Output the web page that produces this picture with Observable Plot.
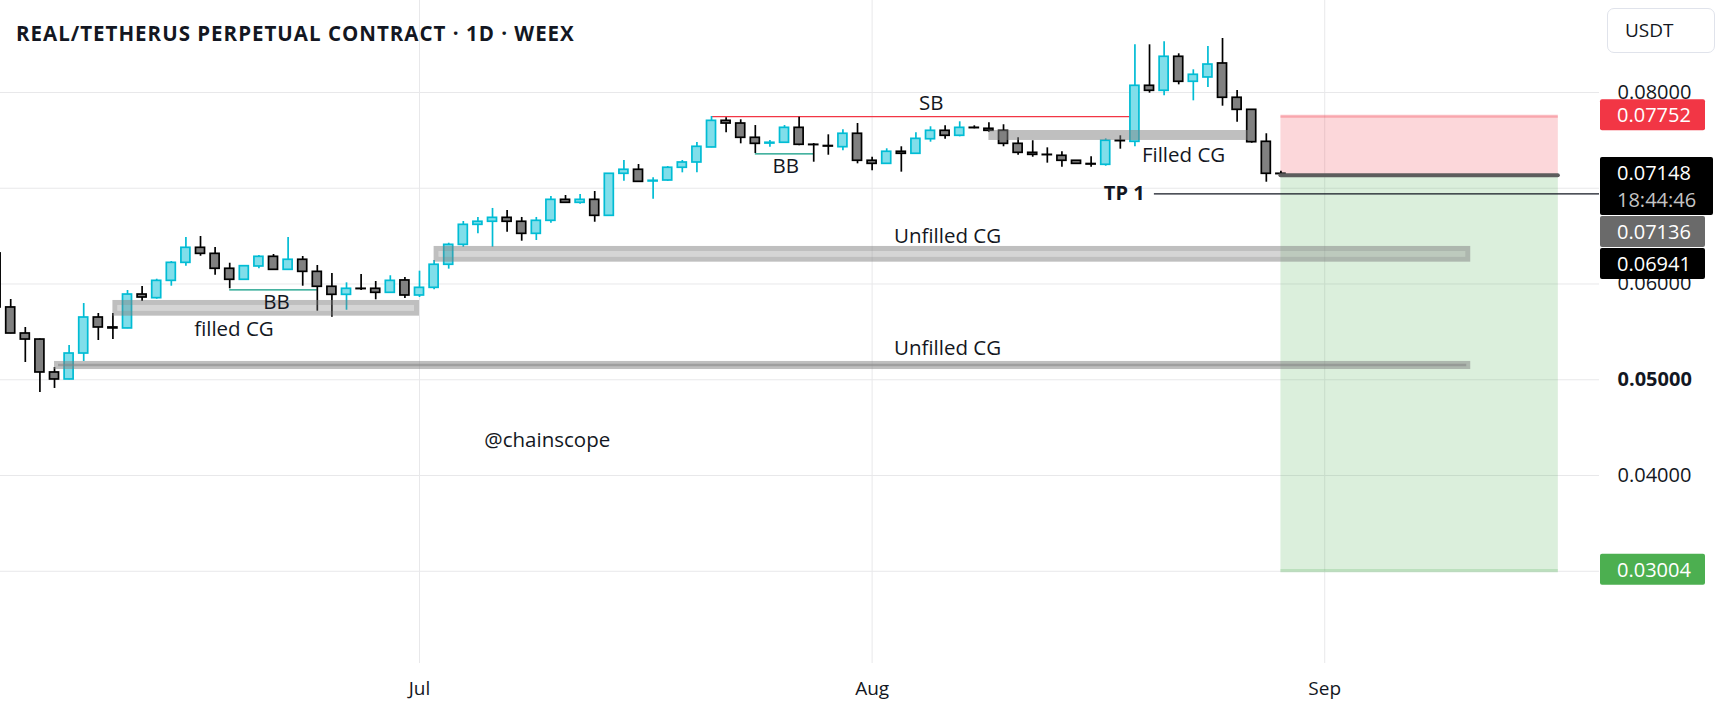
<!DOCTYPE html>
<html><head><meta charset="utf-8">
<script src="https://cdn.jsdelivr.net/npm/d3@7"></script>
<script src="https://cdn.jsdelivr.net/npm/@observablehq/plot@0.6"></script>
<style>
html,body{margin:0;padding:0;background:#fff;}
#wrap{position:relative;width:1722px;height:717px;overflow:hidden;font-family:"Open Sans",sans-serif;}
#wrap svg{position:absolute;left:0;top:0;}
#title{position:absolute;left:16px;top:19px;font-weight:700;font-size:20.5px;line-height:normal;color:#131722;white-space:nowrap;letter-spacing:1.0px;}
#unit{position:absolute;left:1607px;top:8px;width:108px;height:45px;border:1px solid #e0e3eb;border-radius:7px;box-sizing:border-box;font-size:19px;color:#131722;line-height:43px;padding-left:17px;}
</style></head>
<body><div id="wrap"></div>
<script>
// ---------- data ----------
const firstDay = "2025-06-02";
const opens = [0.06319,0.05755,0.05483,0.05420,0.05076,0.05003,0.05274,0.05650,0.05546,0.05536,
0.05890,0.05852,0.06033,0.06221,0.06378,0.06315,0.06159,0.06044,0.06183,0.06284,
0.06148,0.06253,0.06127,0.05971,0.05887,0.05950,0.05950,0.05908,0.06037,0.05880,
0.05960,0.06201,0.06409,0.06618,0.06650,0.06691,0.06650,0.06524,0.06660,0.06879,
0.06848,0.06879,0.06712,0.07151,0.07193,0.07071,0.07081,0.07214,0.07269,0.07426,
0.07704,0.07676,0.07527,0.07467,0.07475,0.07631,0.07454,0.07441,0.07429,0.07569,
0.07287,0.07255,0.07381,0.07360,0.07512,0.07600,0.07548,0.07631,0.07621,0.07600,
0.07464,0.07370,0.07349,0.07339,0.07287,0.07253,0.07245,0.07496,0.07485,0.08070,
0.08018,0.08373,0.08112,0.08157,0.08303,0.07945,0.07819,0.07485,0.07151];
const highs = [0.06371,0.05838,0.05546,0.05425,0.05128,0.05358,0.05796,0.05692,0.05692,0.05932,
0.05974,0.06050,0.06235,0.06486,0.06496,0.06381,0.06217,0.06193,0.06298,0.06308,
0.06486,0.06287,0.06193,0.06110,0.06012,0.06099,0.06026,0.06086,0.06068,0.06134,
0.06245,0.06426,0.06653,0.06695,0.06789,0.06768,0.06695,0.06695,0.06914,0.06924,
0.06935,0.06966,0.07154,0.07290,0.07248,0.07109,0.07227,0.07290,0.07478,0.07749,
0.07736,0.07715,0.07655,0.07499,0.07655,0.07742,0.07467,0.07558,0.07610,0.07676,
0.07324,0.07412,0.07433,0.07579,0.07642,0.07652,0.07694,0.07652,0.07684,0.07663,
0.07527,0.07496,0.07422,0.07381,0.07290,0.07328,0.07516,0.07548,0.08498,0.08498,
0.08530,0.08404,0.08237,0.08480,0.08564,0.08021,0.07822,0.07569,0.07178];
const lows = [0.05702,0.05480,0.05180,0.04867,0.04909,0.05000,0.05191,0.05410,0.05420,0.05533,
0.05817,0.05841,0.05977,0.06186,0.06290,0.06092,0.05950,0.06040,0.06159,0.06145,
0.06145,0.05977,0.05716,0.05653,0.05726,0.05932,0.05835,0.05905,0.05849,0.05859,
0.05939,0.06155,0.06384,0.06524,0.06384,0.06541,0.06447,0.06454,0.06635,0.06845,
0.06833,0.06645,0.06710,0.07074,0.07064,0.06886,0.07071,0.07161,0.07161,0.07423,
0.07579,0.07464,0.07363,0.07429,0.07472,0.07443,0.07272,0.07345,0.07391,0.07255,
0.07182,0.07252,0.07168,0.07352,0.07481,0.07512,0.07537,0.07621,0.07585,0.07433,
0.07345,0.07324,0.07262,0.07220,0.07252,0.07220,0.07230,0.07408,0.07433,0.07993,
0.07966,0.08080,0.07913,0.08052,0.07857,0.07690,0.07470,0.07063,0.07115];
const closes = [0.05755,0.05483,0.05420,0.05076,0.05003,0.05274,0.05650,0.05546,0.05536,0.05890,
0.05859,0.06033,0.06221,0.06378,0.06315,0.06159,0.06044,0.06186,0.06284,0.06148,
0.06253,0.06127,0.05971,0.05887,0.05950,0.05947,0.05908,0.06033,0.05880,0.05960,
0.06201,0.06409,0.06618,0.06650,0.06691,0.06650,0.06524,0.06660,0.06879,0.06848,
0.06879,0.06712,0.07151,0.07193,0.07067,0.07078,0.07214,0.07269,0.07433,0.07704,
0.07676,0.07527,0.07464,0.07475,0.07631,0.07454,0.07451,0.07436,0.07569,0.07287,
0.07255,0.07381,0.07360,0.07516,0.07600,0.07548,0.07631,0.07628,0.07600,0.07464,
0.07370,0.07349,0.07346,0.07287,0.07255,0.07248,0.07496,0.07492,0.08070,0.08018,
0.08373,0.08112,0.08185,0.08292,0.07945,0.07819,0.07481,0.07151,0.07148];

// visible window and price range
const viewStart = "2025-06-02T07:13Z", viewEnd = "2025-09-19T19:41Z";
const priceMin = 0.020366, priceMax = 0.089608;
const monthTicks = ["2025-07-01", "2025-08-01", "2025-09-01"];
const priceTicks = [0.03, 0.04, 0.05, 0.06, 0.07, 0.08];
const labelTicks = [0.04, 0.06, 0.08];   // scale labels not hidden behind a price tag
const boldTick = [0.05];

// CG zones
const zoneName = ["filled CG", "Unfilled CG", "Unfilled CG", "Filled CG"];
const zoneStart = ["2025-06-10", "2025-07-02", "2025-06-06", "2025-08-09"];
const zoneEnd = ["2025-07-01", "2025-09-11", "2025-09-11", "2025-08-27"];
const zoneTop = [0.05828, 0.06392, 0.05191, 0.07603];
const zoneBottom = [0.05664, 0.06228, 0.05107, 0.07499];

// level lines
const levelName = ["SB", "BB", "BB"];
const levelStart = ["2025-07-21", "2025-07-24", "2025-06-18"];
const levelEnd = ["2025-08-19", "2025-07-28", "2025-06-24"];
const levelPrice = [0.07749, 0.07360, 0.05939];
const levelColor = ["#f23645", "#089981", "#089981"];

// position (short)
const posStart = "2025-08-29", posEnd = "2025-09-17";
const stopPrice = 0.07752, entryPrice = 0.07136, targetPrice = 0.03004;
const tpStart = "2025-08-20T08:00Z", tpPrice = 0.06941, tpLabelAt = "2025-08-19T16:00Z";

// annotations
const noteText = ["SB", "BB", "BB", "filled CG", "Unfilled CG", "Unfilled CG", "Filled CG", "@chainscope"];
const noteDate = ["2025-08-05T01:00Z", "2025-07-26T02:00Z", "2025-06-21T05:00Z", "2025-06-18T07:00Z",
                  "2025-08-06T04:00Z", "2025-08-06T04:00Z", "2025-08-22T08:00Z", "2025-07-09T18:00Z"];
const notePrice = [0.07890, 0.07232, 0.05807, 0.05525, 0.06496, 0.05326, 0.07342, 0.04366];

// price tags on the right scale
const tagPrice = [0.07752, 0.07148, 0.07136, 0.06941, 0.03004];
const tagColor = ["#f23645", "#000000", "#6a6a6a", "#000000", "#4caf50"];
const tagSub = [null, "18:44:46", null, null, null];

// ---------- build ----------
const D = s => new Date(s);
const dates = d3.utcDay.range(D(firstDay), d3.utcDay.offset(D(firstDay), opens.length));
const candles = dates.map((date, i) => ({date, open: opens[i], high: highs[i], low: lows[i], close: closes[i]}));
const bull = candles.filter(c => c.close > c.open);
const bear = candles.filter(c => c.close <= c.open);
const zones = zoneName.map((name, i) => ({name, x1: D(zoneStart[i]), x2: D(zoneEnd[i]), top: zoneTop[i], bottom: zoneBottom[i], i}));
const levels = levelName.map((name, i) => ({name, x1: D(levelStart[i]), x2: D(levelEnd[i]), y: levelPrice[i], color: levelColor[i]}));
const notes = noteText.map((text, i) => ({text, date: D(noteDate[i]), price: notePrice[i]}));
const pos = [{x1: D(posStart), x2: D(posEnd)}];

const chart = Plot.plot({
  width: 1722, height: 717,
  marginLeft: 0, marginRight: 123, marginTop: 0, marginBottom: 54,
  style: {fontFamily: "Open Sans, sans-serif", color: "#131722", background: "transparent", overflow: "visible"},
  x: {type: "utc", domain: [D(viewStart), D(viewEnd)]},
  y: {domain: [priceMin, priceMax], axis: null},
  marks: [
    Plot.gridY(priceTicks, {stroke: "#e8e8ea", strokeOpacity: 1}),
    Plot.gridX(monthTicks.map(D), {stroke: "#e8e8ea", strokeOpacity: 1}),
    // position zone
    Plot.rect(pos, {x1: "x1", x2: "x2", y1: stopPrice, y2: entryPrice, fill: "#f23645", fillOpacity: 0.2}),
    Plot.rect(pos, {x1: "x1", x2: "x2", y1: entryPrice, y2: targetPrice, fill: "#4caf50", fillOpacity: 0.2}),
    Plot.ruleY(pos, {x1: "x1", x2: "x2", y: stopPrice, stroke: "#f23645", strokeOpacity: 0.3, strokeWidth: 3}),
    Plot.ruleY(pos, {x1: "x1", x2: "x2", y: targetPrice, stroke: "#4caf50", strokeOpacity: 0.3, strokeWidth: 3}),
    // levels
    Plot.ruleY(levels, {x1: "x1", x2: "x2", y: "y", stroke: "color", strokeWidth: 1.3}),
    // candles
    Plot.ruleX(bull, {x: "date", y1: "low", y2: "high", stroke: "#00bcd4", strokeWidth: 1.7}),
    Plot.ruleX(bear, {x: "date", y1: "low", y2: "high", stroke: "#000000", strokeWidth: 1.7}),
    Plot.rect(bull, {x1: "date", x2: "date", y1: "open", y2: "close", insetLeft: -4.5, insetRight: -4.5,
      fill: "#80deea", stroke: "#00bcd4", strokeWidth: 1.7}),
    Plot.rect(bear, {x1: "date", x2: "date", y1: "open", y2: "close", insetLeft: -4.5, insetRight: -4.5,
      fill: "#808080", stroke: "#000000", strokeWidth: 1.7}),
    // CG zones
    Plot.rect(zones, {x1: "x1", x2: "x2", y1: "top", y2: "bottom", inset: 2.5, fill: "none",
      stroke: "#7f7f7f", strokeOpacity: 0.5, strokeWidth: 5}),
    Plot.rect(zones, {x1: "x1", x2: "x2", y1: "top", y2: "bottom", inset: 5, fill: "#7f7f7f", fillOpacity: 0.33}),
    Plot.rect(zones.filter(z => z.i === 2), {x1: "x1", x2: "x2", y1: "top", y2: "bottom", insetTop: 2.8, insetBottom: 2.8, insetLeft: 4, insetRight: 4, fill: "#7f7f7f", fillOpacity: 0.5}),
    // entry line
    Plot.ruleY(pos, {x1: "x1", x2: "x2", y: entryPrice, stroke: "#5d5d5d", strokeWidth: 4, strokeLinecap: "round"}),
    // TP line
    Plot.ruleY([tpPrice], {x1: D(tpStart), x2: D(viewEnd), y: d => d, stroke: "#131722", strokeWidth: 1.2}),
    Plot.text([tpPrice], {x: D(tpLabelAt), y: d => d, text: () => "TP 1", textAnchor: "end", fontWeight: "bold", fontSize: 20, fill: "#131722"}),
    // annotations
    Plot.text(notes, {x: "date", y: "price", text: "text", fontSize: 20.5, fill: "#131722"}),
    // x axis
    Plot.axisX(monthTicks.map(D), {tickFormat: d3.utcFormat("%b"), tickSize: 0, tickPadding: 18, fontSize: 19, fill: "#131722"}),
    // y axis labels (right)
    Plot.text(labelTicks, {y: d => d, text: d => d.toFixed(5), frameAnchor: "right", dx: 18, textAnchor: "start", fontSize: 20, fill: "#131722"}),
    Plot.text(boldTick, {y: d => d, text: d => d.toFixed(5), frameAnchor: "right", dx: 18, textAnchor: "start", fontSize: 20, fontWeight: "bold", fill: "#131722"})
  ]
});

const wrap = document.getElementById("wrap");
wrap.appendChild(chart);

// price tags, stacked like the trading app does
const sy = chart.scale("y");
const g = d3.select(chart).append("g")
  .attr("font-family", "Open Sans, sans-serif").attr("font-size", 20).attr("text-anchor", "start");
const right = 1722 - 123 + 1;
let prevBottom = -Infinity;
tagPrice.map((p, i) => ({p, color: tagColor[i], sub: tagSub[i]}))
  .sort((a, b) => b.p - a.p)
  .forEach(t => {
    const cy = sy.apply(t.p);
    const h = t.sub ? 58 : 31;
    let top = Math.max(cy - 16.5, prevBottom + 1);
    prevBottom = top + h;
    g.append("rect").attr("x", right).attr("y", top).attr("width", t.sub ? 113 : 105).attr("height", h)
      .attr("rx", 2).attr("fill", t.color);
    g.append("text").attr("x", 1617).attr("y", top + 16).attr("dy", "0.35em").attr("fill", "#fff").text(t.p.toFixed(5));
    if (t.sub) g.append("text").attr("x", 1617).attr("y", top + 43).attr("dy", "0.35em").attr("fill", "#c4c4c4").text(t.sub);
  });

const title = document.createElement("div");
title.id = "title";
title.textContent = "REAL/TETHERUS PERPETUAL CONTRACT · 1D · WEEX";
wrap.appendChild(title);
const unit = document.createElement("div");
unit.id = "unit";
unit.textContent = "USDT";
wrap.appendChild(unit);
</script></body></html>
